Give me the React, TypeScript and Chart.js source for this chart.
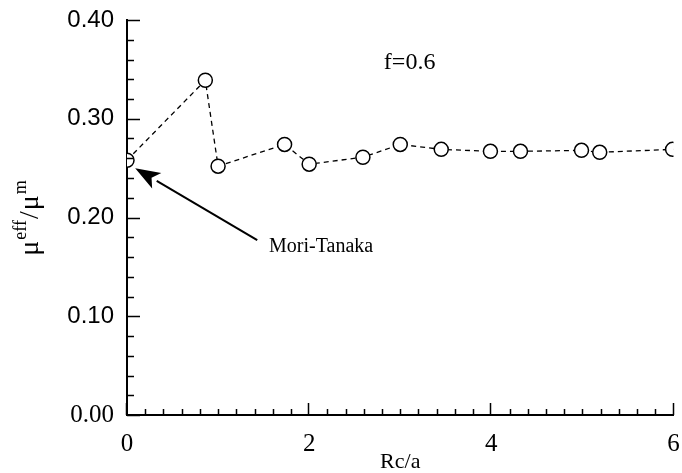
import React, { useEffect, useRef } from "react";
import { Chart, registerables } from "chart.js";

Chart.register(...registerables);

// ---- data ----
const rcOverA = [0, 0.86, 1.0, 1.73, 2.0, 2.59, 3.0, 3.45, 3.99, 4.32, 4.99, 5.19, 5.99];
const muRatio = [0.258, 0.339, 0.252, 0.274, 0.254, 0.261, 0.274, 0.269, 0.267, 0.267, 0.268, 0.266, 0.269];

const xMajorTicks = [0, 2, 4, 6];
const yMajorTicks = [0, 0.1, 0.2, 0.3, 0.4];
const xMinorTicks = [0.2, 0.4, 0.6, 0.8, 1.0, 1.2, 1.4, 1.6, 1.8, 2.2, 2.4, 2.6, 2.8, 3.0, 3.2, 3.4, 3.6, 3.8, 4.2, 4.4, 4.6, 4.8, 5.0, 5.2, 5.4, 5.6, 5.8];
const yMinorTicks = [0.02, 0.04, 0.06, 0.08, 0.12, 0.14, 0.16, 0.18, 0.22, 0.24, 0.26, 0.28, 0.32, 0.34, 0.36, 0.38];

const xTitle = "Rc/a";
const panelLabel = "f=0.6";
const panelLabelAt = { x: 2.82, y: 0.357 };
const annotationLabel = "Mori-Tanaka";
const annotationLabelAt = { x: 1.56, y: 0.170 };
const arrowTail = { x: 1.43, y: 0.177 };
const arrowHead = { x: 0.09, y: 0.250 };

const SERIF = '"Liberation Serif", "Times New Roman", serif';
const SANS = '"Liberation Sans", Arial, sans-serif';

const decorPlugin = {
  id: "decor",
  afterDraw(chart: any) {
    const ctx = chart.ctx;
    const xs = chart.scales.x;
    const ys = chart.scales.y;
    const { left, bottom } = chart.chartArea;
    ctx.save();
    ctx.strokeStyle = "#000";
    ctx.fillStyle = "#000";
    ctx.lineWidth = 1.5;
    // inward ticks
    ctx.beginPath();
    yMinorTicks.forEach((v) => {
      const p = Math.round(ys.getPixelForValue(v)) + 0.5;
      ctx.moveTo(left, p);
      ctx.lineTo(left + 7, p);
    });
    yMajorTicks.forEach((v) => {
      const p = Math.round(ys.getPixelForValue(v)) + 0.5;
      ctx.moveTo(left, p);
      ctx.lineTo(left + 13, p);
    });
    xMinorTicks.forEach((v) => {
      const p = Math.round(xs.getPixelForValue(v)) + 0.5;
      ctx.moveTo(p, bottom);
      ctx.lineTo(p, bottom - 6);
    });
    xMajorTicks.forEach((v) => {
      const p = Math.round(xs.getPixelForValue(v)) - 0.5;
      ctx.moveTo(p, bottom);
      ctx.lineTo(p, bottom - 12);
    });
    ctx.stroke();

    // arrow
    const tx = xs.getPixelForValue(arrowTail.x);
    const ty = ys.getPixelForValue(arrowTail.y);
    const hx = xs.getPixelForValue(arrowHead.x);
    const hy = ys.getPixelForValue(arrowHead.y);
    const ang = Math.atan2(hy - ty, hx - tx);
    const len = 25;
    const half = 9;
    const bx = hx - len * Math.cos(ang);
    const by = hy - len * Math.sin(ang);
    ctx.lineWidth = 2;
    ctx.beginPath();
    ctx.moveTo(tx, ty);
    ctx.lineTo(bx, by);
    ctx.stroke();
    ctx.beginPath();
    ctx.moveTo(hx, hy);
    ctx.lineTo(bx + half * Math.sin(ang), by - half * Math.cos(ang));
    ctx.lineTo(bx + 6 * Math.cos(ang), by + 6 * Math.sin(ang));
    ctx.lineTo(bx - half * Math.sin(ang), by + half * Math.cos(ang));
    ctx.closePath();
    ctx.fill();

    // texts
    ctx.textBaseline = "middle";
    ctx.textAlign = "left";
    ctx.font = `20px ${SERIF}`;
    ctx.fillText(annotationLabel, xs.getPixelForValue(annotationLabelAt.x), ys.getPixelForValue(annotationLabelAt.y));
    ctx.font = `24px ${SERIF}`;
    ctx.fillText(panelLabel, xs.getPixelForValue(panelLabelAt.x), ys.getPixelForValue(panelLabelAt.y));

    // y axis title: mu^eff / mu^m (rotated)
    const cx = 30;
    const cy = (chart.chartArea.top + bottom) / 2;
    const parts = [
      { t: "\u03bc", big: true },
      { t: "eff", big: false },
      { t: "/", big: true },
      { t: "\u03bc", big: true },
      { t: "m", big: false },
    ];
    const bigFont = `28px ${SERIF}`;
    const smallFont = `18px ${SERIF}`;
    let total = 0;
    const widths = parts.map((p) => {
      ctx.font = p.big ? bigFont : smallFont;
      const w = ctx.measureText(p.t).width + 1;
      total += w;
      return w;
    });
    ctx.translate(cx, cy);
    ctx.rotate(-Math.PI / 2);
    ctx.textBaseline = "alphabetic";
    let u = -total / 2;
    parts.forEach((p, i) => {
      ctx.font = p.big ? bigFont : smallFont;
      ctx.fillText(p.t, u, p.big ? 8 : -4);
      u += widths[i];
    });
    ctx.restore();
  },
};

export default function App() {
  const ref = useRef<HTMLCanvasElement | null>(null);

  useEffect(() => {
    document.body.style.margin = "0";
    const canvas = ref.current;
    if (!canvas) return;
    const chart = new Chart(canvas, {
      type: "scatter",
      data: {
        datasets: [
          {
            data: rcOverA.map((x, i) => ({ x, y: muRatio[i] })),
            showLine: true,
            borderColor: "#000",
            borderWidth: 1.3,
            borderDash: [5, 4],
            pointRadius: 7,
            pointBorderWidth: 1.5,
            pointBorderColor: "#000",
            pointBackgroundColor: "#fff",
            pointStyle: "circle",
          },
          {
            data: rcOverA.map((x, i) => ({ x, y: muRatio[i] })),
            showLine: false,
            pointRadius: 0.8,
            pointBorderWidth: 0,
            pointBackgroundColor: "#000",
          },
        ],
      },
      options: {
        animation: false,
        responsive: false,
        devicePixelRatio: 1,
        layout: { padding: { top: 20, right: 6, left: 0, bottom: 0 } },
        plugins: { legend: { display: false }, tooltip: { enabled: false } },
        scales: {
          x: {
            type: "linear",
            min: 0,
            max: 6,
            grid: { display: false },
            border: { display: true, color: "#000", width: 2 },
            afterBuildTicks: (s: any) => {
              s.ticks = xMajorTicks.map((v) => ({ value: v }));
            },
            afterFit: (s: any) => {
              s.height = 58;
              s.paddingLeft = 0;
              s.paddingRight = 0;
            },
            ticks: {
              color: "#000",
              padding: 6,
              maxRotation: 0,
              autoSkip: false,
              font: { family: SERIF, size: 25 },
              callback: (v: any) => String(v),
            },
            title: {
              display: true,
              text: xTitle,
              color: "#000",
              font: { family: SERIF, size: 22, lineHeight: 1 },
              padding: { top: 0, bottom: 0 },
            },
          },
          y: {
            type: "linear",
            min: 0,
            max: 0.4,
            grid: { display: false },
            border: { display: true, color: "#000", width: 2 },
            afterBuildTicks: (s: any) => {
              s.ticks = yMajorTicks.map((v) => ({ value: v }));
            },
            afterFit: (s: any) => {
              s.width = 127;
              s.paddingTop = 0;
              s.paddingBottom = 0;
            },
            ticks: {
              color: "#000",
              padding: 5,
              autoSkip: false,
              font: (c: any) =>
                c.tick && c.tick.value === 0
                  ? { family: SERIF, size: 25 }
                  : { family: SANS, size: 24 },
              callback: (v: any) => Number(v).toFixed(2),
            },
          },
        },
      },
      plugins: [decorPlugin],
    } as any);
    return () => chart.destroy();
  }, []);

  return (
    <div style={{ width: 682, height: 473, background: "#fff" }}>
      <canvas ref={ref} width={682} height={473} style={{ display: "block" }} />
    </div>
  );
}
